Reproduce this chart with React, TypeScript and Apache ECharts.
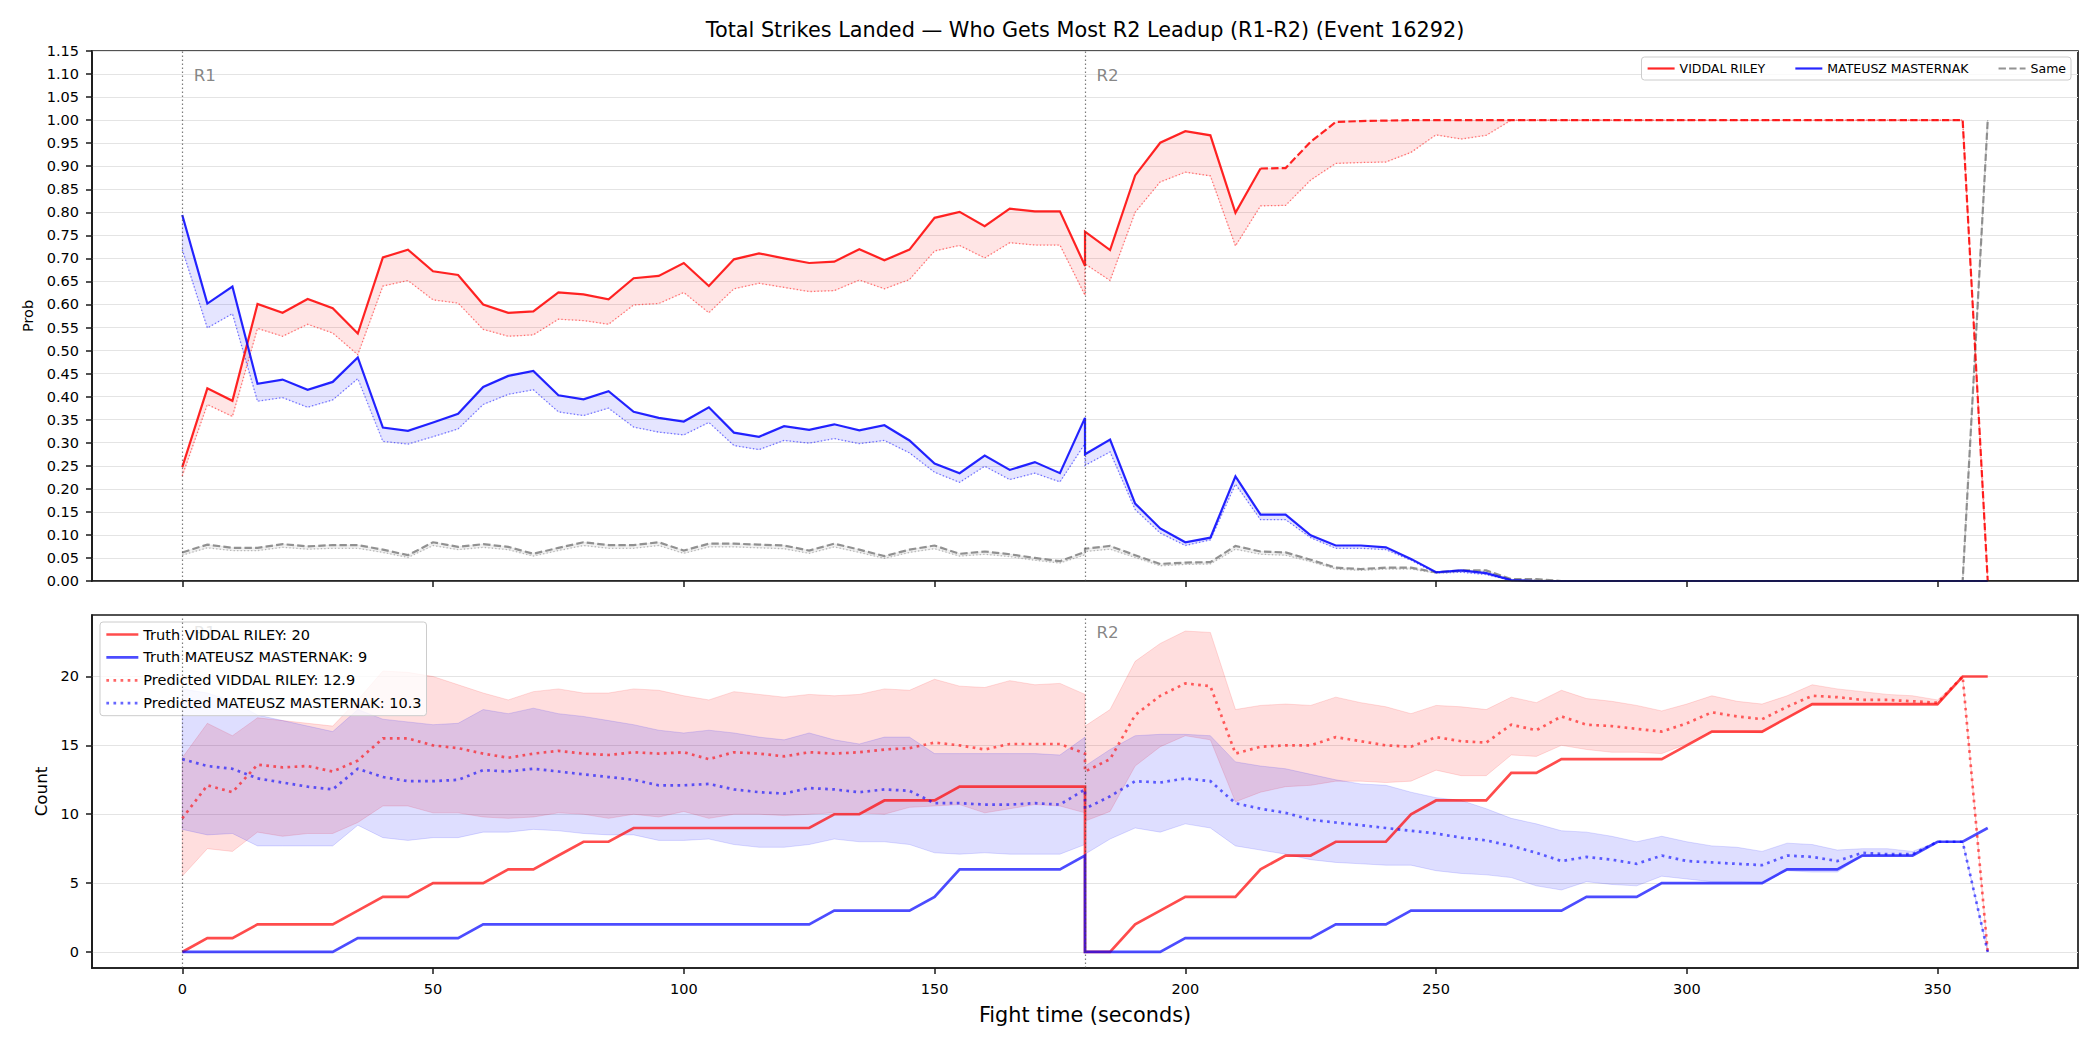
import React, { useEffect, useRef } from 'react';
import * as echarts from 'echarts';

const FONT = 'DejaVu Sans';

const TITLE = 'Total Strikes Landed — Who Gets Most R2 Leadup (R1-R2) (Event 16292)';
const FIGHTER_A = 'VIDDAL RILEY';
const FIGHTER_B = 'MATEUSZ MASTERNAK';
const SAME_NAME = 'Same';
const FINAL_TRUTH_A = 20;
const FINAL_TRUTH_B = 9;
const FINAL_PRED_A = 12.9;
const FINAL_PRED_B = 10.3;

const ROUND_STARTS = [0, 180];
const ROUND_NAMES = ['R1', 'R2'];
const X_TICKS = [0, 50, 100, 150, 200, 250, 300, 350];
const COUNT_TICKS = [0, 5, 10, 15, 20];
// from this time on the fighter-A probability line is drawn dashed
const DASH_FROM_T = 215;

// sample times (seconds); 180 appears twice: end of R1, start of R2
const TIME_R1 = [0, 5, 10, 15, 20, 25, 30, 35, 40, 45, 50, 55, 60, 65, 70, 75, 80, 85, 90, 95, 100, 105, 110, 115, 120, 125, 130, 135, 140, 145, 150, 155, 160, 165, 170, 175, 180];
const TIME_R2 = [180, 185, 190, 195, 200, 205, 210, 215, 220, 225, 230, 235, 240, 245, 250, 255, 260, 265, 270, 275, 280, 285, 290, 295, 300, 305, 310, 315, 320, 325, 330, 335, 340, 345, 350, 355, 360];

// ---- win probabilities (top panel) ----
const RED_PROB_R1 = [0.247, 0.418, 0.391, 0.601, 0.582, 0.612, 0.592, 0.537, 0.702, 0.719, 0.672, 0.664, 0.600, 0.582, 0.585, 0.626, 0.622, 0.611, 0.657, 0.662, 0.690, 0.640, 0.698, 0.711, 0.700, 0.690, 0.693, 0.720, 0.696, 0.719, 0.788, 0.801, 0.770, 0.808, 0.802, 0.802, 0.684];
const RED_PROB_R2 = [0.758, 0.718, 0.880, 0.951, 0.976, 0.967, 0.799, 0.895, 0.896, 0.953, 0.996, 0.998, 0.999, 1, 1, 1, 1, 1, 1, 1, 1, 1, 1, 1, 1, 1, 1, 1, 1, 1, 1, 1, 1, 1, 1, 1, 0];
const RED_LOW_R1 = [0.228, 0.383, 0.357, 0.548, 0.531, 0.557, 0.538, 0.491, 0.640, 0.652, 0.610, 0.603, 0.546, 0.531, 0.534, 0.568, 0.565, 0.557, 0.599, 0.602, 0.626, 0.582, 0.634, 0.646, 0.637, 0.628, 0.630, 0.653, 0.634, 0.654, 0.716, 0.728, 0.701, 0.734, 0.729, 0.729, 0.620];
const RED_LOW_R2 = [0.688, 0.652, 0.800, 0.866, 0.887, 0.879, 0.727, 0.814, 0.815, 0.870, 0.906, 0.908, 0.909, 0.930, 0.968, 0.959, 0.967, 1, 1, 1, 1, 1, 1, 1, 1, 1, 1, 1, 1, 1, 1, 1, 1, 1, 1, 1, 0];

const BLUE_PROB_R1 = [0.794, 0.602, 0.639, 0.428, 0.437, 0.415, 0.432, 0.485, 0.333, 0.326, 0.344, 0.363, 0.421, 0.445, 0.456, 0.403, 0.394, 0.412, 0.367, 0.354, 0.346, 0.377, 0.322, 0.313, 0.336, 0.328, 0.340, 0.327, 0.338, 0.305, 0.255, 0.234, 0.272, 0.241, 0.258, 0.234, 0.354];
const BLUE_PROB_R2 = [0.275, 0.307, 0.168, 0.114, 0.084, 0.094, 0.227, 0.144, 0.144, 0.099, 0.077, 0.077, 0.073, 0.048, 0.019, 0.023, 0.017, 0.002, 0, 0, 0, 0, 0, 0, 0, 0, 0, 0, 0, 0, 0, 0, 0, 0, 0, 0, 0];
const BLUE_LOW_R1 = [0.719, 0.549, 0.580, 0.390, 0.398, 0.377, 0.393, 0.439, 0.303, 0.297, 0.313, 0.330, 0.383, 0.405, 0.415, 0.367, 0.359, 0.375, 0.334, 0.323, 0.317, 0.344, 0.294, 0.285, 0.305, 0.299, 0.309, 0.298, 0.305, 0.278, 0.236, 0.214, 0.249, 0.220, 0.234, 0.215, 0.298];
const BLUE_LOW_R2 = [0.251, 0.280, 0.155, 0.104, 0.077, 0.089, 0.210, 0.133, 0.133, 0.094, 0.071, 0.071, 0.068, 0.045, 0.017, 0.019, 0.014, 0.001, 0, 0, 0, 0, 0, 0, 0, 0, 0, 0, 0, 0, 0, 0, 0, 0, 0, 0, 0];

const SAME_PROB_R1 = [0.062, 0.079, 0.072, 0.072, 0.080, 0.075, 0.078, 0.078, 0.068, 0.056, 0.084, 0.074, 0.080, 0.074, 0.059, 0.072, 0.084, 0.078, 0.078, 0.084, 0.066, 0.081, 0.081, 0.079, 0.077, 0.066, 0.081, 0.068, 0.054, 0.068, 0.077, 0.059, 0.064, 0.058, 0.050, 0.043, 0.063];
const SAME_PROB_R2 = [0.070, 0.076, 0.056, 0.037, 0.040, 0.041, 0.076, 0.064, 0.062, 0.046, 0.029, 0.026, 0.029, 0.029, 0.019, 0.023, 0.023, 0.004, 0.004, 0, 0, 0, 0, 0, 0, 0, 0, 0, 0, 0, 0, 0, 0, 0, 0, 0, 1];
const SAME_LOW_R1 = [0.056, 0.072, 0.066, 0.066, 0.073, 0.069, 0.071, 0.071, 0.062, 0.051, 0.077, 0.068, 0.073, 0.068, 0.054, 0.066, 0.077, 0.071, 0.071, 0.077, 0.060, 0.074, 0.074, 0.072, 0.070, 0.060, 0.074, 0.062, 0.049, 0.062, 0.070, 0.054, 0.058, 0.053, 0.045, 0.039, 0.057];
const SAME_LOW_R2 = [0.064, 0.069, 0.051, 0.033, 0.036, 0.037, 0.069, 0.058, 0.056, 0.042, 0.026, 0.023, 0.026, 0.026, 0.017, 0.021, 0.021, 0.003, 0.003, 0, 0, 0, 0, 0, 0, 0, 0, 0, 0, 0, 0, 0, 0, 0, 0, 0, 1];

// ---- strike counts (bottom panel) ----
const TRUTH_RED_R1 = [0, 1, 1, 2, 2, 2, 2, 3, 4, 4, 5, 5, 5, 6, 6, 7, 8, 8, 9, 9, 9, 9, 9, 9, 9, 9, 10, 10, 11, 11, 11, 12, 12, 12, 12, 12, 12];
const TRUTH_RED_R2 = [0, 0, 2, 3, 4, 4, 4, 6, 7, 7, 8, 8, 8, 10, 11, 11, 11, 13, 13, 14, 14, 14, 14, 14, 15, 16, 16, 16, 17, 18, 18, 18, 18, 18, 18, 20, 20];
const TRUTH_BLUE_R1 = [0, 0, 0, 0, 0, 0, 0, 1, 1, 1, 1, 1, 2, 2, 2, 2, 2, 2, 2, 2, 2, 2, 2, 2, 2, 2, 3, 3, 3, 3, 4, 6, 6, 6, 6, 6, 7];
const TRUTH_BLUE_R2 = [0, 0, 0, 0, 1, 1, 1, 1, 1, 1, 2, 2, 2, 3, 3, 3, 3, 3, 3, 3, 4, 4, 4, 5, 5, 5, 5, 5, 6, 6, 6, 7, 7, 7, 8, 8, 9];

const PRED_RED_R1 = [9.7, 12.1, 11.6, 13.6, 13.4, 13.5, 13.1, 13.9, 15.5, 15.5, 15.0, 14.8, 14.4, 14.1, 14.4, 14.6, 14.4, 14.3, 14.5, 14.4, 14.5, 14.0, 14.5, 14.4, 14.2, 14.5, 14.4, 14.5, 14.7, 14.8, 15.2, 15.0, 14.7, 15.1, 15.1, 15.1, 14.4];
const PRED_RED_R2 = [13.1, 14.0, 17.2, 18.6, 19.5, 19.3, 14.4, 14.9, 15.0, 15.0, 15.6, 15.3, 15.0, 14.9, 15.6, 15.3, 15.2, 16.5, 16.1, 17.1, 16.5, 16.4, 16.2, 16.0, 16.6, 17.4, 17.1, 16.9, 17.8, 18.6, 18.5, 18.3, 18.3, 18.2, 18.1, 20.0, 0];
const PRED_BLUE_R1 = [14.0, 13.5, 13.3, 12.6, 12.3, 12.0, 11.8, 13.3, 12.7, 12.4, 12.4, 12.5, 13.2, 13.1, 13.3, 13.1, 12.9, 12.7, 12.5, 12.1, 12.1, 12.2, 11.8, 11.6, 11.5, 11.9, 11.8, 11.6, 11.8, 11.7, 10.8, 10.8, 10.7, 10.7, 10.8, 10.7, 11.8];
const PRED_BLUE_R2 = [10.4, 11.3, 12.4, 12.3, 12.6, 12.4, 10.8, 10.4, 10.1, 9.6, 9.4, 9.2, 9.0, 8.8, 8.6, 8.3, 8.1, 7.7, 7.2, 6.6, 6.9, 6.7, 6.4, 7.0, 6.6, 6.5, 6.4, 6.3, 7.0, 6.9, 6.6, 7.2, 7.1, 7.1, 8.0, 8.0, 0];

const RED_UP_R1 = [14.1, 16.6, 15.7, 17.0, 16.8, 16.6, 16.4, 18.3, 20.4, 20.3, 20.0, 19.4, 18.8, 18.3, 18.9, 19.1, 18.8, 18.8, 19.1, 19.0, 18.6, 18.3, 18.9, 18.7, 18.5, 18.7, 18.6, 18.7, 19.1, 19.0, 19.8, 19.3, 19.2, 19.7, 19.4, 19.5, 18.7];
const RED_UP_R2 = [16.4, 17.6, 21.1, 22.4, 23.3, 23.2, 17.6, 17.9, 18.0, 17.9, 18.5, 18.1, 17.8, 17.3, 17.9, 17.8, 17.6, 18.5, 18.1, 19.0, 18.4, 18.2, 17.9, 17.5, 18.0, 18.6, 18.2, 18.0, 18.6, 19.4, 19.1, 18.9, 18.7, 18.6, 18.3, 20.0, 0];
const RED_LO_R1 = [5.5, 7.5, 7.3, 8.7, 8.4, 8.6, 8.6, 9.4, 10.6, 10.6, 10.1, 10.1, 9.8, 9.7, 9.8, 10.1, 10.0, 9.7, 10.0, 9.8, 10.2, 9.7, 10.0, 10.0, 9.9, 10.0, 10.1, 10.1, 10.0, 10.5, 10.6, 10.7, 10.1, 10.4, 10.7, 10.6, 10.1];
const RED_LO_R2 = [9.5, 10.2, 13.5, 14.9, 15.7, 15.4, 10.9, 11.6, 12.0, 12.1, 12.4, 12.4, 12.3, 12.4, 13.2, 12.8, 12.8, 14.3, 14.2, 15.0, 14.7, 14.5, 14.5, 14.4, 15.1, 16.0, 16.0, 15.9, 17.0, 17.9, 17.9, 17.9, 17.9, 17.9, 17.9, 20.0, 0];
const BLUE_UP_R1 = [19.1, 18.8, 18.2, 17.2, 16.8, 16.4, 16.0, 17.6, 16.9, 16.7, 16.5, 16.6, 17.6, 17.3, 17.7, 17.3, 17.1, 16.8, 16.5, 16.1, 15.9, 16.1, 15.9, 15.6, 15.4, 15.9, 15.4, 15.1, 15.6, 15.6, 14.4, 14.4, 14.4, 14.4, 14.4, 14.3, 15.6];
const BLUE_UP_R2 = [13.5, 14.7, 15.7, 15.8, 15.8, 15.7, 13.8, 13.5, 13.3, 12.9, 12.5, 12.2, 12.1, 11.6, 11.2, 11.0, 10.4, 9.7, 9.3, 8.8, 8.7, 8.4, 8.0, 8.4, 8.0, 7.7, 7.6, 7.3, 7.9, 7.8, 7.4, 7.5, 7.5, 7.3, 8.0, 8.0, 0];
const BLUE_LO_R1 = [8.9, 8.5, 8.6, 7.7, 7.7, 7.7, 7.7, 9.2, 8.3, 8.1, 8.3, 8.3, 8.7, 8.7, 8.9, 8.8, 8.6, 8.5, 8.5, 8.1, 8.1, 8.2, 7.8, 7.6, 7.6, 7.8, 8.2, 8.0, 8.0, 7.8, 7.2, 7.1, 7.2, 7.1, 7.1, 7.1, 7.8];
const BLUE_LO_R2 = [7.1, 8.2, 9.0, 8.7, 9.3, 9.0, 7.7, 7.4, 7.1, 6.7, 6.5, 6.4, 6.3, 6.3, 5.9, 5.7, 5.6, 5.4, 4.8, 4.5, 5.1, 4.9, 4.8, 5.5, 5.3, 5.1, 5.1, 5.0, 5.9, 5.8, 5.8, 7.0, 7.0, 7.0, 8.0, 8.0, 0];

// ---- helpers ----
const TIME = [...TIME_R1, ...TIME_R2];
const join = (a: number[], b: number[]) => [...a, ...b];
const pairs = (vs: number[]) => TIME.map((t, i) => [t, vs[i]]);
const bandRows = (lo: number[], hi: number[]) => TIME.map((t, i) => [t, lo[i], hi[i]]);

const RED = (a: number) => `rgba(255,0,0,${a})`;
const BLUE = (a: number) => `rgba(0,0,255,${a})`;
const GRAY = (a: number) => `rgba(128,128,128,${a})`;

function band(xi: number, rows: number[][], fill: string) {
  return {
    type: 'custom',
    xAxisIndex: xi,
    yAxisIndex: xi,
    silent: true,
    z: 1,
    data: rows,
    encode: { x: 0, y: [1, 2] },
    renderItem: (params: any, api: any) => {
      if (params.dataIndex !== 0) return null;
      const upper = rows.map((r) => api.coord([r[0], r[2]]));
      const lower = rows.map((r) => api.coord([r[0], r[1]])).reverse();
      return {
        type: 'polygon',
        shape: { points: upper.concat(lower) },
        style: { fill, stroke: fill, lineWidth: 1 },
      };
    },
  };
}

function line(name: string, xi: number, data: number[][], color: string, width: number, type: any, z = 2) {
  return {
    type: 'line',
    name,
    xAxisIndex: xi,
    yAxisIndex: xi,
    data,
    symbol: 'none',
    showSymbol: false,
    silent: true,
    z,
    itemStyle: { color },
    lineStyle: { color, width, type, cap: 'butt', join: 'miter' },
  };
}

function roundMarks(xi: number, labelY: number) {
  return {
    type: 'scatter',
    name: 'rounds-' + xi,
    xAxisIndex: xi,
    yAxisIndex: xi,
    silent: true,
    z: 1,
    symbolSize: 1,
    itemStyle: { color: 'rgba(0,0,0,0)' },
    data: ROUND_STARTS.map((t, i) => ({ value: [t, labelY], name: ROUND_NAMES[i] })),
    label: {
      show: true,
      position: 'right',
      distance: 11,
      formatter: '{b}',
      color: '#666666',
      fontSize: 16.7,
      fontFamily: FONT,
    },
    markLine: {
      silent: true,
      symbol: ['none', 'none'],
      label: { show: false },
      lineStyle: { color: 'rgba(70,70,70,0.7)', width: 1.2, type: [1.5, 2.5] },
      data: ROUND_STARTS.map((t) => ({ xAxis: t })),
    },
  };
}

const AXIS_COLOR = '#1a1a1a';
const tickLabelStyle = { fontSize: 14.5, color: '#000', fontFamily: FONT };

function xAxis(gi: number, showLabels: boolean) {
  return {
    type: 'value',
    gridIndex: gi,
    min: -18,
    max: 378,
    splitNumber: 8,
    minInterval: 50,
    maxInterval: 50,
    z: 3,
    axisLine: { show: true, onZero: false, lineStyle: { color: AXIS_COLOR, width: 1.7 } },
    axisTick: { show: true, inside: false, length: 6, customValues: X_TICKS, lineStyle: { color: AXIS_COLOR, width: 1.5 } },
    axisLabel: {
      show: showLabels,
      customValues: X_TICKS,
      margin: 13,
      ...tickLabelStyle,
      formatter: (v: number) => (X_TICKS.includes(v) ? String(v) : ''),
    },
    splitLine: { show: false },
    ...(showLabels
      ? {
          name: 'Fight time (seconds)',
          nameLocation: 'middle',
          nameGap: 36,
          nameTextStyle: { fontSize: 20.8, color: '#000', fontFamily: FONT },
        }
      : {}),
  };
}

export default function App() {
  const ref = useRef<HTMLDivElement>(null);

  useEffect(() => {
    if (!ref.current) return;
    const chart = echarts.init(ref.current, null, { renderer: 'svg' });

    const redProb = pairs(join(RED_PROB_R1, RED_PROB_R2));
    const dashIdx = TIME_R1.length + TIME_R2.indexOf(DASH_FROM_T);
    const redSolid = redProb.slice(0, dashIdx + 1);
    const redDashed = redProb.slice(dashIdx);

    const truthA = `Truth ${FIGHTER_A}: ${FINAL_TRUTH_A}`;
    const truthB = `Truth ${FIGHTER_B}: ${FINAL_TRUTH_B}`;
    const predA = `Predicted ${FIGHTER_A}: ${FINAL_PRED_A}`;
    const predB = `Predicted ${FIGHTER_B}: ${FINAL_PRED_B}`;

    const legendBase = {
      selectedMode: false,
      backgroundColor: 'rgba(255,255,255,0.8)',
      borderColor: '#cccccc',
      borderWidth: 1,
      borderRadius: 3,
      // line-only keys: hide the marker dot that line series add by default
      itemStyle: { opacity: 0, borderWidth: 0 },
    };

    const option: any = {
      animation: false,
      backgroundColor: '#ffffff',
      textStyle: { fontFamily: FONT },
      graphic: [
        {
          type: 'text',
          x: 1085,
          y: 30,
          silent: true,
          style: {
            text: TITLE,
            fill: '#000',
            font: `20.8px "${FONT}"`,
            fontSize: 20.8,
            fontFamily: FONT,
            align: 'center',
            verticalAlign: 'middle',
            textAlign: 'center',
            textVerticalAlign: 'middle',
          },
        },
      ],
      grid: [
        { left: 92, top: 51, width: 1986, height: 530, show: true, borderColor: AXIS_COLOR, borderWidth: 1.7, backgroundColor: 'transparent' },
        { left: 92, top: 615, width: 1986, height: 353, show: true, borderColor: AXIS_COLOR, borderWidth: 1.7, backgroundColor: 'transparent' },
      ],
      xAxis: [xAxis(0, false), xAxis(1, true)],
      yAxis: [
        {
          type: 'value',
          gridIndex: 0,
          min: 0,
          max: 1.15,
          interval: 0.05,
          axisLine: { show: true, onZero: false, lineStyle: { color: AXIS_COLOR, width: 1.7 } },
          axisTick: { show: true, inside: false, length: 6, lineStyle: { color: AXIS_COLOR, width: 1.5 } },
          axisLabel: { margin: 13, ...tickLabelStyle, formatter: (v: number) => v.toFixed(2) },
          splitLine: { show: true, lineStyle: { color: '#e4e4e4', width: 1 } },
          name: 'Prob',
          nameLocation: 'middle',
          nameGap: 54,
          nameTextStyle: { fontSize: 14.5, color: '#000', fontFamily: FONT },
        },
        {
          type: 'value',
          gridIndex: 1,
          min: -1.165,
          max: 24.465,
          splitNumber: 5,
          minInterval: 5,
          maxInterval: 5,
          axisLine: { show: true, onZero: false, lineStyle: { color: AXIS_COLOR, width: 1.7 } },
          axisTick: { show: true, inside: false, length: 6, customValues: COUNT_TICKS, lineStyle: { color: AXIS_COLOR, width: 1.5 } },
          axisLabel: {
            margin: 13,
            customValues: COUNT_TICKS,
            ...tickLabelStyle,
            formatter: (v: number) => (COUNT_TICKS.includes(v) ? String(v) : ''),
          },
          splitLine: { show: true, lineStyle: { color: '#e4e4e4', width: 1 } },
          name: 'Count',
          nameLocation: 'middle',
          nameGap: 40,
          nameTextStyle: { fontSize: 16.7, color: '#000', fontFamily: FONT },
        },
      ],
      legend: [
        {
          ...legendBase,
          data: [FIGHTER_A, FIGHTER_B, SAME_NAME],
          orient: 'horizontal',
          right: 29,
          top: 57,
          itemWidth: 27,
          itemHeight: 14,
          itemGap: 29,
          padding: 5,
          lineStyle: { width: 2.2 },
          textStyle: { fontSize: 12.5, color: '#000', fontFamily: FONT },
        },
        {
          ...legendBase,
          data: [truthA, truthB, predA, predB],
          orient: 'vertical',
          left: 100,
          top: 622,
          itemWidth: 32,
          itemHeight: 14,
          itemGap: 7.9,
          padding: [5, 5, 5, 5],
          lineStyle: { width: 2.7 },
          textStyle: { fontSize: 14.5, color: '#000', fontFamily: FONT },
        },
      ],
      series: [
        // top panel: probabilities
        roundMarks(0, 1.098),
        band(0, bandRows(join(RED_LOW_R1, RED_LOW_R2), join(RED_PROB_R1, RED_PROB_R2)), RED(0.1)),
        band(0, bandRows(join(BLUE_LOW_R1, BLUE_LOW_R2), join(BLUE_PROB_R1, BLUE_PROB_R2)), BLUE(0.1)),
        band(0, bandRows(join(SAME_LOW_R1, SAME_LOW_R2), join(SAME_PROB_R1, SAME_PROB_R2)), GRAY(0.1)),
        line(FIGHTER_A + ' low', 0, pairs(join(RED_LOW_R1, RED_LOW_R2)), RED(0.5), 1.3, [1.3, 2.2]),
        line(FIGHTER_B + ' low', 0, pairs(join(BLUE_LOW_R1, BLUE_LOW_R2)), BLUE(0.5), 1.3, [1.3, 2.2]),
        line(SAME_NAME + ' low', 0, pairs(join(SAME_LOW_R1, SAME_LOW_R2)), GRAY(0.5), 1.3, [1.3, 2.2]),
        line(SAME_NAME, 0, pairs(join(SAME_PROB_R1, SAME_PROB_R2)), GRAY(0.85), 2.2, [7.4, 3.2]),
        line(FIGHTER_A, 0, redSolid, RED(0.85), 2.2, 'solid'),
        line(FIGHTER_A + ' decided', 0, redDashed, RED(0.85), 2.2, [7.4, 3.2]),
        line(FIGHTER_B, 0, pairs(join(BLUE_PROB_R1, BLUE_PROB_R2)), BLUE(0.85), 2.2, 'solid'),

        // bottom panel: counts
        roundMarks(1, 23.2),
        band(1, bandRows(join(RED_LO_R1, RED_LO_R2), join(RED_UP_R1, RED_UP_R2)), RED(0.13)),
        band(1, bandRows(join(BLUE_LO_R1, BLUE_LO_R2), join(BLUE_UP_R1, BLUE_UP_R2)), BLUE(0.13)),
        line(truthA, 1, pairs(join(TRUTH_RED_R1, TRUTH_RED_R2)), RED(0.7), 2.7, 'solid'),
        line(truthB, 1, pairs(join(TRUTH_BLUE_R1, TRUTH_BLUE_R2)), BLUE(0.7), 2.7, 'solid'),
        line(predA, 1, pairs(join(PRED_RED_R1, PRED_RED_R2)), RED(0.6), 2.7, [2.7, 4.4]),
        line(predB, 1, pairs(join(PRED_BLUE_R1, PRED_BLUE_R2)), BLUE(0.6), 2.7, [2.7, 4.4]),
      ],
    };

    chart.setOption(option);
    return () => chart.dispose();
  }, []);

  return (
    <div
      ref={ref}
      style={{ position: 'absolute', left: 0, top: 0, width: 2100, height: 1050, background: '#fff' }}
    />
  );
}
